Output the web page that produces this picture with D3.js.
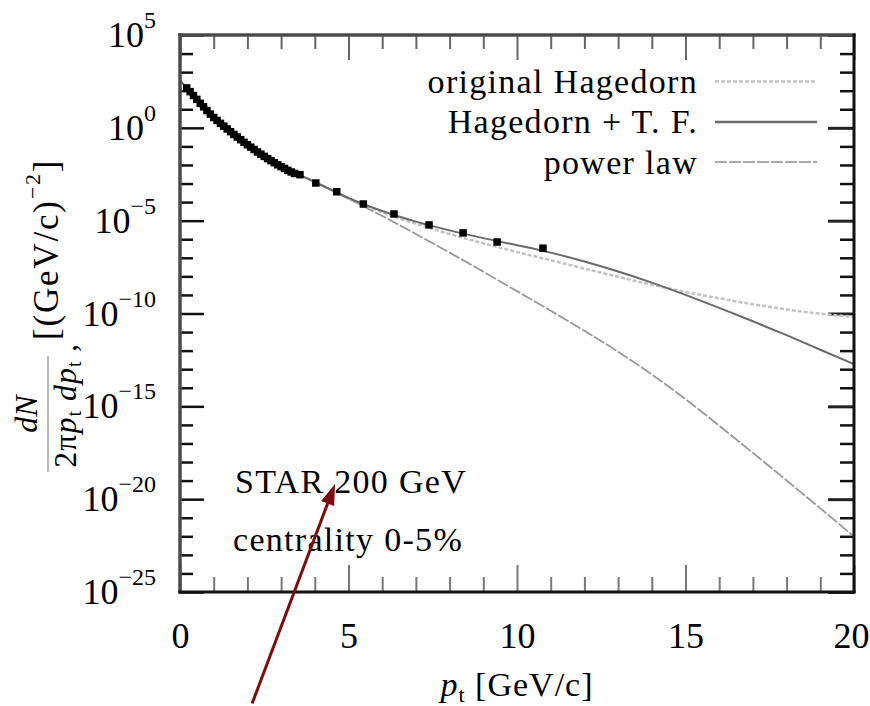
<!DOCTYPE html>
<html>
<head>
<meta charset="utf-8">
<script src="https://cdn.jsdelivr.net/npm/d3@7"></script>
<style>
  body { margin: 0; background: #fff; }
  svg { display: block; font-family: "Liberation Serif", "Times New Roman", serif; }
</style>
</head>
<body>
<svg id="chart" width="870" height="706"></svg>
<script>
// ---- measured spectrum (STAR 200 GeV, centrality 0-5%) ----
const dataPt = [0.2, 0.3, 0.4, 0.5, 0.6, 0.7, 0.8, 0.9, 1.0, 1.1, 1.2, 1.3, 1.4, 1.5, 1.6,
                1.7, 1.8, 1.9, 2.0, 2.1, 2.2, 2.3, 2.4, 2.5, 2.6, 2.7, 2.8, 2.9, 3.0, 3.1, 3.2, 3.3, 3.4,
                3.56, 4.03, 4.65, 5.44, 6.35, 7.39, 8.40, 9.41, 10.77];
const dataYield = [1.41e2, 8.9e1, 5.5e1, 3.4e1, 2.1e1, 1.35e1, 8.5, 5.5, 3.6, 2.5, 1.74, 1.23, 0.87, 0.62, 0.44,
                   0.32, 0.23, 0.166, 0.123, 0.091, 0.068, 0.050, 0.038, 0.029, 0.022, 0.017, 0.0132, 0.0102, 0.0081, 0.0065, 0.0051, 0.0042, 0.0035,
                   3.0e-3, 1.07e-3, 3.6e-4, 7.9e-5, 2.3e-5, 5.9e-6, 2.2e-6, 7.1e-7, 3.3e-7];

// ---- fitted curves ----
const curvePt = [0, 0.5, 1, 1.5, 2, 2.5, 3, 3.5, 4, 4.5, 5, 6, 7, 8, 9, 10, 11, 12, 13, 14, 15, 16, 17, 18, 19, 20];
const originalHagedorn = [3.5e2, 3.8e1, 3.8, 6.3e-1, 1.26e-1, 2.95e-2, 8.3e-3, 3.2e-3, 1.2e-3, 4.4e-4,
                          1.58e-4, 2.8e-5, 6.8e-6, 1.9e-6, 6.0e-7, 2.04e-7, 7.4e-8, 2.63e-8, 9.5e-9, 3.55e-9,
                          1.45e-9, 6.6e-10, 3.16e-10, 1.66e-10, 9.8e-11, 6.6e-11];
const hagedornTF = [3.5e2, 3.8e1, 3.8, 6.3e-1, 1.26e-1, 2.95e-2, 8.3e-3, 3.2e-3, 1.2e-3, 4.5e-4,
                    1.66e-4, 3.3e-5, 8.9e-6, 3.0e-6, 1.15e-6, 4.8e-7, 1.9e-7, 6.3e-8, 1.82e-8, 4.6e-9,
                    1.0e-9, 2.0e-10, 3.8e-11, 6.8e-12, 1.12e-12, 1.86e-13];
const powerLaw = [3.5e2, 3.8e1, 3.8, 6.3e-1, 1.26e-1, 2.95e-2, 8.3e-3, 3.2e-3, 1.2e-3, 4.4e-4,
                  1.5e-4, 1.8e-5, 1.9e-6, 1.9e-7, 1.8e-8, 1.6e-9, 1.41e-10, 1.17e-11, 8.7e-13, 5.2e-14,
                  2.45e-15, 9.1e-17, 3.1e-18, 1.02e-19, 3.2e-21, 9.8e-23];

// ---- ticks and labels ----
const xMajorTicks = [0, 5, 10, 15, 20];
const xMinorTicks = [1, 2, 3, 4, 6, 7, 8, 9, 11, 12, 13, 14, 16, 17, 18, 19];
const yMajorExponents = [5, 0, -5, -10, -15, -20, -25];
const yMinorExponents = [4, 3, 2, 1, -1, -2, -3, -4, -6, -7, -8, -9, -11, -12, -13, -14,
                         -16, -17, -18, -19, -21, -22, -23, -24];
const legendLabels = ["original Hagedorn", "Hagedorn + T. F.", "power law"];
const noteLines = ["STAR 200 GeV", "centrality 0-5%"];

const plot = { left: 180, right: 854, top: 35, bottom: 592 };
const svg = d3.select("#chart");
const FONT = '"Liberation Serif", "Times New Roman", serif';

const x = d3.scaleLinear().domain([0, 20]).range([plot.left, plot.right]);
const y = d3.scaleLog().domain([1e-25, 1e5]).range([plot.bottom, plot.top]);
const pow10 = e => Math.pow(10, e);
const supLabel = e => (e < 0 ? "\u2212" + (-e) : String(e));

function tidy(g, color, width) {
  g.select(".domain").remove();
  g.selectAll(".tick line").attr("stroke", color).attr("stroke-width", width);
}

// ---- tick marks on all four sides ----
svg.append("g").attr("transform", `translate(${plot.left},0)`)
  .call(d3.axisLeft(y).tickValues(yMinorExponents.map(pow10)).tickSize(-13).tickFormat(""))
  .call(g => tidy(g, "#111", 2.5));
const yLeftMajor = svg.append("g").attr("transform", `translate(${plot.left},0)`)
  .call(d3.axisLeft(y).tickValues(yMajorExponents.map(pow10)).tickSize(-24).tickPadding(24).tickFormat(() => "10"))
  .call(g => tidy(g, "#111", 2.5));
yLeftMajor.attr("font-family", FONT).attr("font-size", 36);
yLeftMajor.selectAll(".tick text")
  .attr("fill", "#000")
  .each(function (d) {
    const e = Math.round(Math.log10(d));
    d3.select(this).append("tspan").attr("dy", -19).attr("font-size", 24).text(supLabel(e));
  });

svg.append("g").attr("transform", `translate(${plot.right},0)`)
  .call(d3.axisRight(y).tickValues(yMinorExponents.map(pow10)).tickSize(-14).tickFormat(""))
  .call(g => tidy(g, "#111", 2.5));
svg.append("g").attr("transform", `translate(${plot.right},0)`)
  .call(d3.axisRight(y).tickValues(yMajorExponents.map(pow10)).tickSize(-26).tickFormat(""))
  .call(g => tidy(g, "#222", 3));

svg.append("g").attr("transform", `translate(0,${plot.bottom})`)
  .call(d3.axisBottom(x).tickValues(xMinorTicks).tickSize(-15).tickFormat(""))
  .call(g => tidy(g, "#777", 2));
const xBottomMajor = svg.append("g").attr("transform", `translate(0,${plot.bottom})`)
  .call(d3.axisBottom(x).tickValues(xMajorTicks).tickSize(-27).tickPadding(30).tickFormat(d3.format("d")))
  .call(g => tidy(g, "#777", 2));
xBottomMajor.attr("font-family", FONT).attr("font-size", 36);
xBottomMajor.selectAll(".tick text").attr("fill", "#000")
  .attr("text-anchor", d => (d === 20 ? "end" : "middle"))
  .attr("dx", d => (d === 20 ? 15 : 0));

svg.append("g").attr("transform", `translate(0,${plot.top})`)
  .call(d3.axisTop(x).tickValues(xMinorTicks).tickSize(-14).tickFormat(""))
  .call(g => tidy(g, "#666", 2));
svg.append("g").attr("transform", `translate(0,${plot.top})`)
  .call(d3.axisTop(x).tickValues(xMajorTicks).tickSize(-25).tickFormat(""))
  .call(g => tidy(g, "#666", 2));

// ---- curves ----
const line = vals => d3.line()
  .x((d, i) => x(curvePt[i]))
  .y(d => y(d))
  .curve(d3.curveMonotoneX)(vals);

svg.append("path").attr("d", line(powerLaw))
  .attr("fill", "none").attr("stroke", "#999").attr("stroke-width", 1.8).attr("stroke-dasharray", "12,2");
svg.append("path").attr("d", line(originalHagedorn))
  .attr("fill", "none").attr("stroke", "#c2c2c2").attr("stroke-width", 2.5).attr("stroke-dasharray", "4,2");
svg.append("path").attr("d", line(hagedornTF))
  .attr("fill", "none").attr("stroke", "#6a6a6a").attr("stroke-width", 2);

// ---- data points (filled squares) ----
svg.append("g").selectAll("path")
  .data(dataPt.map((p, i) => [p, dataYield[i]]))
  .join("path")
  .attr("transform", d => `translate(${x(d[0])},${y(d[1])})`)
  .attr("d", d3.symbol(d3.symbolSquare, 56))
  .attr("fill", "#000");

// ---- frame ----
const frame = svg.append("g").attr("stroke-linecap", "square");
frame.append("line").attr("x1", plot.left).attr("x2", plot.right).attr("y1", plot.top).attr("y2", plot.top)
  .attr("stroke", "#4a4a4a").attr("stroke-width", 3.5);
frame.append("line").attr("x1", plot.left).attr("x2", plot.left).attr("y1", plot.top).attr("y2", plot.bottom)
  .attr("stroke", "#4a4a4a").attr("stroke-width", 3.5);
frame.append("line").attr("x1", plot.left).attr("x2", plot.right).attr("y1", plot.bottom).attr("y2", plot.bottom)
  .attr("stroke", "#111").attr("stroke-width", 3);
frame.append("line").attr("x1", plot.right).attr("x2", plot.right).attr("y1", plot.top).attr("y2", plot.bottom)
  .attr("stroke", "#111").attr("stroke-width", 3);

// ---- legend ----
const legendStyles = [
  { stroke: "#c2c2c2", width: 2.5, dash: "4,2" },
  { stroke: "#6a6a6a", width: 2.5, dash: null },
  { stroke: "#aaa", width: 2, dash: "12,2" }
];
const legendBaselines = [93, 133, 174];
const legendLineY = [81.5, 122, 162];
const legend = svg.append("g").attr("font-family", FONT).attr("font-size", 34).attr("letter-spacing", 1.3);
legendLabels.forEach((label, i) => {
  legend.append("text").attr("x", 698).attr("y", legendBaselines[i])
    .attr("text-anchor", "end").attr("fill", "#000").text(label);
  const ln = legend.append("line").attr("x1", 715).attr("x2", 817)
    .attr("y1", legendLineY[i]).attr("y2", legendLineY[i])
    .attr("stroke", legendStyles[i].stroke).attr("stroke-width", legendStyles[i].width);
  if (legendStyles[i].dash) ln.attr("stroke-dasharray", legendStyles[i].dash);
});

// ---- annotation ----
const notes = svg.append("g").attr("font-family", FONT).attr("font-size", 34).attr("fill", "#000")
  .attr("letter-spacing", 1.3);
notes.append("text").attr("x", 235).attr("y", 493).text(noteLines[0]);
notes.append("text").attr("x", 233).attr("y", 551).text(noteLines[1]);

// ---- x axis title ----
const xt = svg.append("text").attr("x", (plot.left + plot.right) / 2).attr("y", 696)
  .attr("text-anchor", "middle").attr("font-family", FONT).attr("font-size", 34).attr("fill", "#000")
  .attr("letter-spacing", 1);
xt.append("tspan").attr("font-style", "italic").text("p");
xt.append("tspan").attr("font-size", 22).attr("dy", 6).text("t");
xt.append("tspan").attr("dy", -6).text(" [GeV/c]");

// ---- y axis title (rotated) ----
const yt = svg.append("g").attr("transform", "translate(48,473) rotate(-90)")
  .attr("font-family", FONT).attr("font-size", 32).attr("fill", "#000");
yt.append("line").attr("x1", 1).attr("x2", 117).attr("y1", 0).attr("y2", 0)
  .attr("stroke", "#bbb").attr("stroke-width", 2);
yt.append("text").attr("x", 59).attr("y", -11).attr("text-anchor", "middle")
  .attr("font-style", "italic").text("dN");
const den = yt.append("text").attr("x", 59).attr("y", 28).attr("text-anchor", "middle").attr("letter-spacing", 1);
den.append("tspan").text("2\u03C0");
den.append("tspan").attr("font-style", "italic").text("p");
den.append("tspan").attr("font-size", 20).attr("dy", 5).text("t");
den.append("tspan").attr("dy", -5).attr("font-style", "italic").text(" dp");
den.append("tspan").attr("font-size", 20).attr("dy", 5).text("t");
yt.append("text").attr("x", 121).attr("y", 28).attr("font-size", 32).text(",");
const unit = yt.append("text").attr("x", 133).attr("y", 10).attr("font-size", 35).attr("letter-spacing", 1.8);
unit.append("tspan").text("[(GeV/c)");
unit.append("tspan").attr("font-size", 22).attr("dy", -18).text("\u22122");
unit.append("tspan").attr("dy", 18).text("]");

// ---- arrow pointing at the annotation ----
const arrowFrom = { pt: 2.14, y: 1e-31 };
const arrowTo = { pt: 4.6, y: 6.6e-20 };
const ax0 = x(arrowFrom.pt), ay0 = y(arrowFrom.y), ax1 = x(arrowTo.pt), ay1 = y(arrowTo.y);
const len = Math.hypot(ax1 - ax0, ay1 - ay0);
const ux = (ax1 - ax0) / len, uy = (ay1 - ay0) / len;
const headLen = 21, headHalf = 7;
const bx = ax1 - ux * headLen, by = ay1 - uy * headLen;
const arrowColor = "#7d0c0c";
svg.append("line").attr("x1", ax0).attr("y1", ay0).attr("x2", bx + ux * 2).attr("y2", by + uy * 2)
  .attr("stroke", arrowColor).attr("stroke-width", 3);
svg.append("path")
  .attr("d", `M${ax1},${ay1}L${bx - uy * headHalf},${by + ux * headHalf}L${bx + uy * headHalf},${by - ux * headHalf}Z`)
  .attr("fill", arrowColor);
</script>
</body>
</html>
